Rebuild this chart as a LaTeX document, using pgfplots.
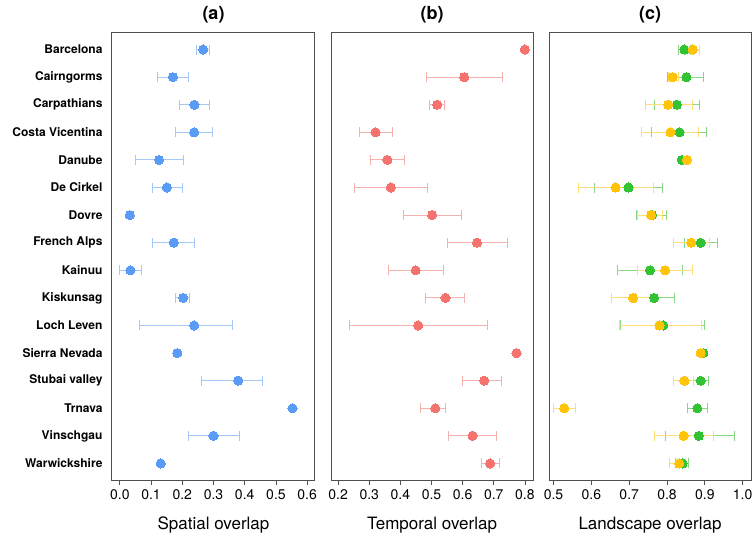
\documentclass[border=0pt]{standalone}
\usepackage{fontspec}
\setmainfont{TeX Gyre Heros}
\usepackage{pgfplots}
\usepackage{pgfplotstable}
\pgfplotsset{compat=1.18}

\definecolor{ablue}{RGB}{90,155,245}
\definecolor{ablueL}{RGB}{165,200,245}
\definecolor{bred}{RGB}{245,115,110}
\definecolor{bredL}{RGB}{245,178,172}
\definecolor{cgreen}{RGB}{50,195,50}
\definecolor{cgreenL}{RGB}{135,215,135}
\definecolor{cyel}{RGB}{255,195,10}
\definecolor{cyelL}{RGB}{255,222,120}
\definecolor{frame}{RGB}{80,80,80}

% panel (a): spatial overlap
\pgfplotstableread{
i m lo hi
1 0.267 0.246 0.286
2 0.170 0.120 0.220
3 0.239 0.190 0.288
4 0.238 0.179 0.297
5 0.126 0.049 0.203
6 0.151 0.103 0.199
8 0.173 0.106 0.239
9 0.034 -0.002 0.068
10 0.203 0.179 0.224
11 0.238 0.062 0.361
13 0.379 0.262 0.456
15 0.300 0.219 0.382
}\tabAerr
\pgfplotstableread{
i m
7 0.032
12 0.184
14 0.553
16 0.131
}\tabAno
% panel (b): temporal overlap
\pgfplotstableread{
i m lo hi
2 0.605 0.483 0.727
3 0.518 0.494 0.543
4 0.320 0.268 0.374
5 0.358 0.303 0.412
6 0.369 0.251 0.488
7 0.502 0.409 0.595
8 0.646 0.550 0.743
9 0.449 0.361 0.539
10 0.545 0.482 0.606
11 0.457 0.235 0.679
13 0.669 0.600 0.724
14 0.512 0.464 0.545
15 0.632 0.555 0.710
16 0.688 0.659 0.717
}\tabBerr
\pgfplotstableread{
i m
1 0.800
12 0.773
}\tabBno
% panel (c): landscape overlap, green series
\pgfplotstableread{
i m lo hi
1 0.846 0.830 0.862
2 0.851 0.801 0.897
3 0.826 0.766 0.886
4 0.833 0.760 0.905
6 0.698 0.607 0.787
7 0.760 0.718 0.799
8 0.889 0.847 0.932
9 0.755 0.668 0.842
10 0.766 0.716 0.819
11 0.790 0.678 0.900
13 0.889 0.869 0.909
14 0.880 0.853 0.907
15 0.884 0.795 0.977
16 0.841 0.822 0.856
}\tabCGerr
\pgfplotstableread{
i m
5 0.839
12 0.896
}\tabCGno
% panel (c): yellow series
\pgfplotstableread{
i m lo hi
1 0.868 0.848 0.886
2 0.815 0.804 0.829
3 0.803 0.744 0.867
4 0.809 0.732 0.884
6 0.664 0.566 0.763
7 0.758 0.723 0.789
8 0.864 0.817 0.912
9 0.795 0.723 0.866
10 0.710 0.652 0.766
11 0.780 0.673 0.890
13 0.846 0.818 0.870
14 0.528 0.500 0.558
15 0.844 0.766 0.922
16 0.832 0.806 0.850
}\tabCYerr
\pgfplotstableread{
i m
5 0.853
12 0.889
}\tabCYno

\pgfplotsset{
  panel/.style={
    scale only axis, width=202pt, height=447pt,
    ymin=0.4, ymax=16.6, y dir=reverse,
    ytick=\empty,
    axis line style={draw=frame, line width=1pt},
    tick align=outside, xtick pos=bottom, ytick pos=left,
    major tick length=5pt,
    tick style={frame, line width=0.8pt},
    xticklabel style={font=\fontsize{14}{14}\selectfont, yshift=-1pt},
    /pgf/number format/assume math mode=true,
    /pgf/number format/fixed, /pgf/number format/fixed zerofill,
    /pgf/number format/precision=1,
    xlabel style={font=\fontsize{17}{17}\selectfont, at={(0.5,0)}, anchor=center, yshift=-45pt},
    title style={font=\bfseries\fontsize{18}{18}\selectfont, at={(0.5,1)}, anchor=center, yshift=12pt},
    clip=false,
  },
  errp/.style 2 args={only marks, mark=*, mark size=4.6pt,
    mark options={draw=#1, fill=#1, line width=0pt},
    error bars/.cd, x dir=both, x explicit,
    error bar style={#2, line width=0.9pt},
    error mark=|, error mark options={#2, mark size=5pt, line width=0.9pt, rotate=0}},
  nop/.style={only marks, mark=*, mark size=4.6pt,
    mark options={draw=#1, fill=#1, line width=0pt}},
}

\begin{document}
\begin{tikzpicture}
\useasboundingbox (0,0) rectangle (754pt,534pt);
% (a)
\begin{axis}[panel, at={(112pt,54pt)}, anchor=south west, width=203pt,
  xmin=-0.025, xmax=0.625, xtick={0,0.1,...,0.6},
  ytick={1,...,16},
  yticklabels={Barcelona,Cairngorms,Carpathians,Costa Vicentina,Danube,De Cirkel,Dovre,French Alps,Kainuu,Kiskunsag,Loch Leven,Sierra Nevada,Stubai valley,Trnava,Vinschgau,Warwickshire},
  ytick style={draw=none},
  yticklabel style={font=\bfseries\fontsize{12}{12}\selectfont, xshift=-1pt},
  title={(a)}, xlabel={Spatial overlap}]
\addplot[errp={ablue}{ablueL}] table[x=m, y=i, x error plus expr=\thisrow{hi}-\thisrow{m}, x error minus expr=\thisrow{m}-\thisrow{lo}] {\tabAerr};
\addplot[nop=ablue] table[x=m, y=i] {\tabAno};
\end{axis}
% (b)
\begin{axis}[panel, at={(331pt,54pt)}, anchor=south west,
  xmin=0.177, xmax=0.826, xtick={0.2,0.3,...,0.8},
  title={(b)}, xlabel={Temporal overlap}]
\addplot[errp={bred}{bredL}] table[x=m, y=i, x error plus expr=\thisrow{hi}-\thisrow{m}, x error minus expr=\thisrow{m}-\thisrow{lo}] {\tabBerr};
\addplot[nop=bred] table[x=m, y=i] {\tabBno};
\end{axis}
% (c)
\begin{axis}[panel, at={(549pt,54pt)}, anchor=south west,
  xmin=0.488, xmax=1.022, xtick={0.5,0.6,...,1.0},
  title={(c)}, xlabel={Landscape overlap}]
\addplot[errp={cgreen}{cgreenL}] table[x=m, y=i, x error plus expr=\thisrow{hi}-\thisrow{m}, x error minus expr=\thisrow{m}-\thisrow{lo}] {\tabCGerr};
\addplot[nop=cgreen] table[x=m, y=i] {\tabCGno};
\addplot[errp={cyel}{cyelL}] table[x=m, y=i, x error plus expr=\thisrow{hi}-\thisrow{m}, x error minus expr=\thisrow{m}-\thisrow{lo}] {\tabCYerr};
\addplot[nop=cyel] table[x=m, y=i] {\tabCYno};
\end{axis}
\end{tikzpicture}
\end{document}
